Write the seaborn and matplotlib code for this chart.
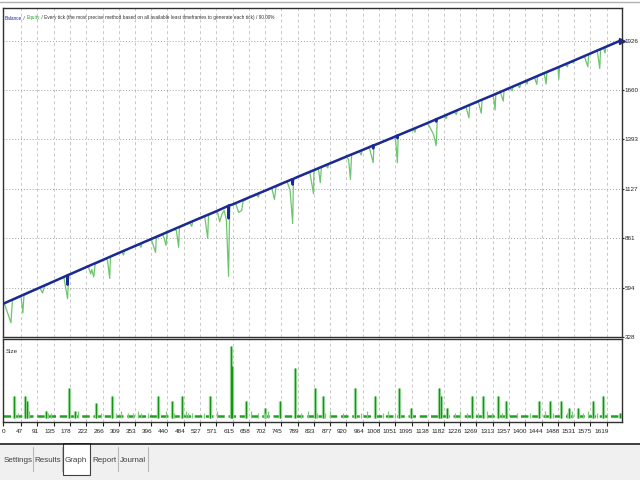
import pandas as pd
import seaborn as sns
import matplotlib.pyplot as plt
from matplotlib.patches import Rectangle
from matplotlib.lines import Line2D
from matplotlib.transforms import ScaledTranslation

# balance at round trade numbers
bal_trades = [0, 47, 91, 135, 178, 222, 266, 309, 353, 396, 440, 484, 527, 571,
              615, 658, 702, 745, 789, 833, 877, 920, 964, 1008, 1051, 1095,
              1138, 1182, 1226, 1269, 1313, 1357, 1400, 1444, 1488, 1531,
              1575, 1619, 1655]
bal_values = [508, 550, 589, 628, 666, 705, 743, 781, 819, 856, 894, 932, 969,
              1006, 1043, 1080, 1117, 1154, 1191, 1228, 1265, 1301, 1337, 1373,
              1409, 1446, 1482, 1520, 1558, 1595, 1632, 1670, 1707, 1745, 1782,
              1819, 1857, 1895, 1926]

# losing trades that notch the balance line
notch_trades = [171, 172, 173, 603, 604, 605, 775, 776, 777,
                991, 992, 993, 1056, 1057, 1058, 1160, 1161, 1162]
notch_values = [660, 610, 662, 1035, 968, 1037, 1179, 1150, 1180,
                1360, 1345, 1361, 1414, 1400, 1415, 1501, 1490, 1503]

# floating drawdowns of equity (trade, equity)
drawdowns = [
    (3, 505), (20, 405), (24, 525),
    (43, 543), (52, 458), (55, 553),
    (97, 594), (105, 566), (110, 601),
    (162, 650), (172, 535), (175, 662),
    (228, 706), (234, 668), (237, 692), (242, 652), (246, 721),
    (275, 748), (279, 742), (285, 644), (287, 760),
    (318, 786), (322, 770), (325, 793),
    (365, 826), (369, 812), (372, 836),
    (397, 853), (408, 784), (410, 862),
    (427, 880), (431, 862), (436, 822), (439, 887),
    (458, 908), (464, 902), (470, 812), (472, 917),
    (500, 943), (505, 925), (508, 952),
    (540, 976), (548, 860), (550, 985),
    (574, 1005), (580, 950), (586, 990),
    (592, 1010), (598, 960), (604, 655), (607, 1040),
    (623, 1048), (631, 1000), (639, 1010), (643, 1060),
    (680, 1095), (684, 1082), (687, 1104),
    (720, 1130), (727, 1070), (731, 1135),
    (761, 1165), (769, 1120), (776, 940), (778, 1180),
    (822, 1216), (832, 1100), (835, 1225),
    (845, 1236), (850, 1160), (853, 1244),
    (866, 1253), (870, 1240), (873, 1262),
    (920, 1298), (926, 1285), (931, 1178), (934, 1310),
    (955, 1327), (960, 1310), (962, 1335),
    (982, 1348), (992, 1268), (994, 1360),
    (1048, 1403), (1052, 1390), (1057, 1268), (1059, 1414),
    (1100, 1447), (1104, 1432), (1107, 1456),
    (1134, 1476), (1144, 1460), (1154, 1420), (1161, 1360), (1164, 1503),
    (1182, 1517), (1188, 1505), (1191, 1528),
    (1210, 1541), (1215, 1528), (1218, 1550),
    (1241, 1568), (1249, 1510), (1251, 1580),
    (1274, 1596), (1282, 1535), (1284, 1608),
    (1314, 1630), (1316, 1605), (1319, 1552), (1321, 1637),
    (1334, 1644), (1341, 1600), (1343, 1655),
    (1359, 1668), (1365, 1655), (1367, 1678),
    (1380, 1687), (1385, 1672), (1388, 1697),
    (1400, 1704), (1405, 1692), (1407, 1712),
    (1425, 1726), (1431, 1690), (1433, 1734),
    (1451, 1748), (1456, 1692), (1458, 1756),
    (1483, 1775), (1490, 1718), (1492, 1786),
    (1508, 1797), (1513, 1785), (1515, 1802),
    (1525, 1811), (1530, 1805), (1532, 1818),
    (1559, 1840), (1568, 1785), (1570, 1851),
    (1593, 1872), (1600, 1776), (1602, 1882),
    (1610, 1885), (1614, 1860), (1616, 1890),
]

# position sizes (lots)
BASE_LOT = 0.01
spike_trades = [28, 58, 63, 114, 176, 192, 249, 291, 414, 453,
                478, 553, 610, 613, 650, 701, 741, 783, 837, 858,
                942, 998, 1062, 1093, 1169, 1173, 1190, 1257, 1287, 1327,
                1349, 1437, 1467, 1496, 1518, 1541, 1582, 1608, 1653]
spike_lots = [0.09, 0.09, 0.07, 0.03, 0.12, 0.03, 0.06, 0.09, 0.09, 0.07,
              0.09, 0.09, 0.29, 0.21, 0.07, 0.04, 0.07, 0.20, 0.12, 0.09,
              0.12, 0.09, 0.12, 0.04, 0.12, 0.09, 0.04, 0.09, 0.09, 0.09,
              0.07, 0.07, 0.07, 0.07, 0.04, 0.04, 0.07, 0.09, 0.02]
small_trades = [38, 68, 119, 127, 200, 262, 301, 315, 333, 347,
                360, 369, 387, 436, 457, 489, 496, 507, 537, 574,
                663, 684, 703, 711, 797, 816, 842, 864, 877, 912,
                958, 976, 1019, 1032, 1051, 1212, 1226, 1245, 1274, 1298,
                1311, 1338, 1352, 1378, 1413, 1453, 1475, 1512, 1526, 1555,
                1568, 1593, 1619]
small_lots = [0.02, 0.03, 0.02, 0.02, 0.03, 0.02, 0.02, 0.03, 0.02, 0.02,
              0.03, 0.02, 0.02, 0.03, 0.02, 0.03, 0.02, 0.02, 0.02, 0.03,
              0.03, 0.02, 0.02, 0.03, 0.02, 0.03, 0.02, 0.02, 0.03, 0.02,
              0.02, 0.03, 0.02, 0.03, 0.02, 0.02, 0.03, 0.02, 0.02, 0.03,
              0.02, 0.02, 0.03, 0.02, 0.02, 0.03, 0.02, 0.02, 0.03, 0.02,
              0.03, 0.02, 0.02]

x_ticks = [0, 47, 91, 135, 178, 222, 266, 309, 353, 396, 440, 484, 527, 571,
           615, 658, 702, 745, 789, 833, 877, 920, 964, 1008, 1051, 1095,
           1138, 1182, 1226, 1269, 1313, 1357, 1400, 1444, 1488, 1531, 1575, 1619]
y_ticks = [328, 594, 861, 1127, 1393, 1660, 1926]
header = ["Balance", " / ", "Equity",
          " / Every tick (the most precise method based on all available least "
          "timeframes to generate each tick) / 90.00%"]
tabs = ["Settings", "Results", "Graph", "Report", "Journal"]

# tables
bal = dict(zip(bal_trades, bal_values))
eq = {t: v - 3 for t, v in bal.items()}
eq.update(drawdowns)
bal.update(zip(notch_trades, notch_values))
bal_df = pd.DataFrame(sorted(bal.items()), columns=["trade", "balance"])
eq_df = pd.DataFrame(sorted(eq.items()), columns=["trade", "equity"])

sns.set_style("white")
plt.rcParams['font.family'] = ['Liberation Sans', 'DejaVu Sans']

W, H = 640, 480
fig = plt.figure(figsize=(6.4, 4.8), dpi=100)

def box(x0, y0, x1, y1):
    return [x0 / W, 1 - y1 / H, (x1 - x0) / W, (y1 - y0) / H]

ax = fig.add_axes(box(3, 8, 622, 337))
ax2 = fig.add_axes(box(3, 339, 622, 422))
XMAX = 1659.6

# main graph
sns.lineplot(data=eq_df, x="trade", y="equity", ax=ax, color="#6cc66c",
             lw=0.9, estimator=None)
sns.lineplot(data=bal_df, x="trade", y="balance", ax=ax, color="#1c2896",
             lw=1.8, estimator=None)
ax.plot([XMAX], [bal_values[-1]], marker=">", ms=4, color="#1c2896",
        clip_on=False)
ax.set_xlim(-1.3, XMAX)
ax.set_ylim(328, 2102)
ax.set_xticks(x_ticks)
ax.set_yticks(y_ticks)
ax.yaxis.tick_right()
ax.tick_params(axis="x", length=0, labelbottom=False)
ax.tick_params(axis="y", length=1.5, pad=0.5, labelsize=4.5, colors="#202020")
ax.grid(axis="x", color="#c8c8c8", linestyle=(0, (3, 3)), lw=0.7)
ax.grid(axis="y", color="#a0a0a0", linestyle=(0, (1, 2)), lw=0.7)
ax.set_xlabel("")
ax.set_ylabel("")
for s in ax.spines.values():
    s.set_color("#303030")
    s.set_linewidth(1)

# header text segments
fig.canvas.draw()
rend = fig.canvas.get_renderer()
x = 5
for txt, col in zip(header, ["#2020b0", "#303030", "#22a022", "#303030"]):
    t = fig.text(x / W, 1 - 18 / H, txt, color=col, fontsize=3.4,
                 va="center", ha="left")
    x += t.get_window_extent(rend).width

# size panel
ax2.axhline(BASE_LOT, color="#22a022", lw=1.8, linestyle=(0, (3, 1.5)))
ax2.vlines(spike_trades, 0, spike_lots, color="#9fdc9f", lw=2.4)
ax2.vlines(spike_trades, 0, spike_lots, color="#149414", lw=0.9)
ax2.vlines(small_trades, 0, small_lots, color="#7acc7a", lw=0.9)
ax2.set_xlim(-1.3, XMAX)
ax2.set_ylim(-0.016, 0.316)
ax2.set_xticks(x_ticks)
ax2.set_xticklabels([str(v) for v in x_ticks])
ax2.set_yticks([])
ax2.tick_params(axis="x", length=3, pad=2, labelsize=4.6, colors="#202020",
                bottom=True)
shift = ScaledTranslation(1.5 / 100, 0, fig.dpi_scale_trans)
for lab in ax2.get_xticklabels():
    lab.set_ha("right")
    lab.set_transform(lab.get_transform() + shift)
ax2.grid(axis="x", color="#c8c8c8", linestyle=(0, (3, 3)), lw=0.7)
ax2.text(0.004, 0.85, "Size", transform=ax2.transAxes, fontsize=4.5,
         color="#303030", va="center")
for s in ax2.spines.values():
    s.set_color("#303030")
    s.set_linewidth(1)

# top rule
fig.add_artist(Line2D([0, 1], [1 - 2 / H] * 2, color="#b0b0b0", lw=1))

# tab strip
tab_ax = fig.add_axes(box(0, 443, 640, 480))
tab_ax.set_xlim(0, W)
tab_ax.set_ylim(480, 443)
tab_ax.axis("off")
tab_ax.add_patch(Rectangle((0, 443), W, 37, color="#f0f0f0"))
tab_ax.plot([0, W], [443.5, 443.5], color="#202020", lw=1.2)
tab_ax.add_patch(Rectangle((63, 443), 27, 32, facecolor="white",
                           edgecolor="#404040", lw=0.8))
tab_x = [18, 48, 76, 104, 133]
for xs in [33, 62, 118, 148]:
    tab_ax.plot([xs, xs], [447, 471], color="#b8b8b8", lw=0.8)
for name, xc in zip(tabs, tab_x):
    tab_ax.text(xc, 461, name, ha="center", va="center", fontsize=5.8,
                color="#404040")

fig.savefig("out.png", dpi=100)
